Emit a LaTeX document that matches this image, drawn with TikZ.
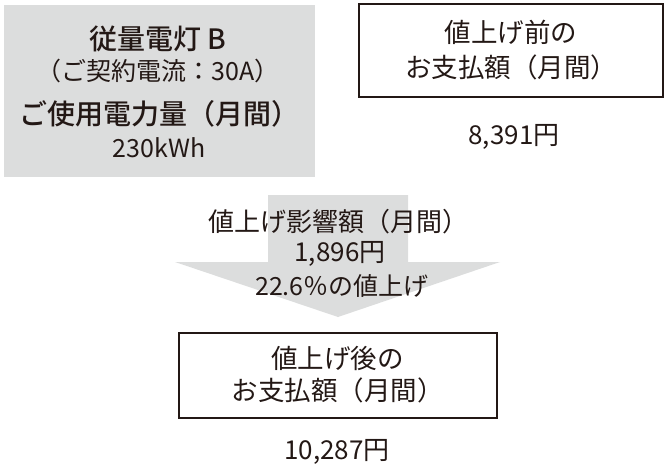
\documentclass[tikz,border=0pt]{standalone}
\usepackage{fontspec}
\setmainfont{Noto Sans CJK JP}[BoldFont={Noto Sans CJK JP Medium}]
\definecolor{panelgray}{HTML}{DCDDDD}
\definecolor{inkblack}{HTML}{231815}
\tikzset{
    txt/.style={text=inkblack, inner sep=0pt, font=\fontsize{25}{30}\selectfont},
    boldtxt/.style={txt, font=\fontsize{28}{33}\selectfont\bfseries},
    pricebox/.style={draw=inkblack, line width=2pt, inner sep=0pt, align=center, text=inkblack},
}
\begin{document}
\begin{tikzpicture}[x=1pt, y=-1pt]
    \useasboundingbox (0, 0) rectangle (666, 463);

    % usage panel
    \fill[panelgray] (4, 5) rectangle (315, 177);
    \node[boldtxt] (plan) at (158, 39) {従量電灯 B};
    \node[txt] (contract) at (158, 71) {（ご契約電流：30A）};
    \node[boldtxt] (usage) at (159, 114) {ご使用電力量（月間）};
    \node[txt] (kwh) at (159, 148) {230kWh};

    % before
    \node[pricebox, minimum width=304, minimum height=93,
          font=\fontsize{26.5}{35}\selectfont] (before) at (511, 50.5) {値上げ前の\\お支払額（月間）};
    \node[txt, font=\fontsize{26}{30}\selectfont] (beforeprice) at (514, 137) {8,391円};

    % arrow
    \fill[panelgray] (268, 195) -- (408, 195) -- (408, 262) -- (500, 262)
        -- (338, 317) -- (175, 262) -- (268, 262) -- cycle;
    \node[txt, font=\fontsize{26}{30}\selectfont] (impact) at (338, 222) {値上げ影響額（月間）};
    \node[txt, font=\fontsize{26}{30}\selectfont] (diff) at (340, 254) {1,896円};
    \node[txt] (rate) at (342, 286) {22.6％の値上げ};

    % after
    \node[pricebox, minimum width=318, minimum height=85,
          font=\fontsize{26.5}{32}\selectfont] (after) at (337.5, 375) {値上げ後の\\お支払額（月間）};
    \node[txt, font=\fontsize{26}{30}\selectfont] (afterprice) at (337, 452) {10,287円};
\end{tikzpicture}
\end{document}
